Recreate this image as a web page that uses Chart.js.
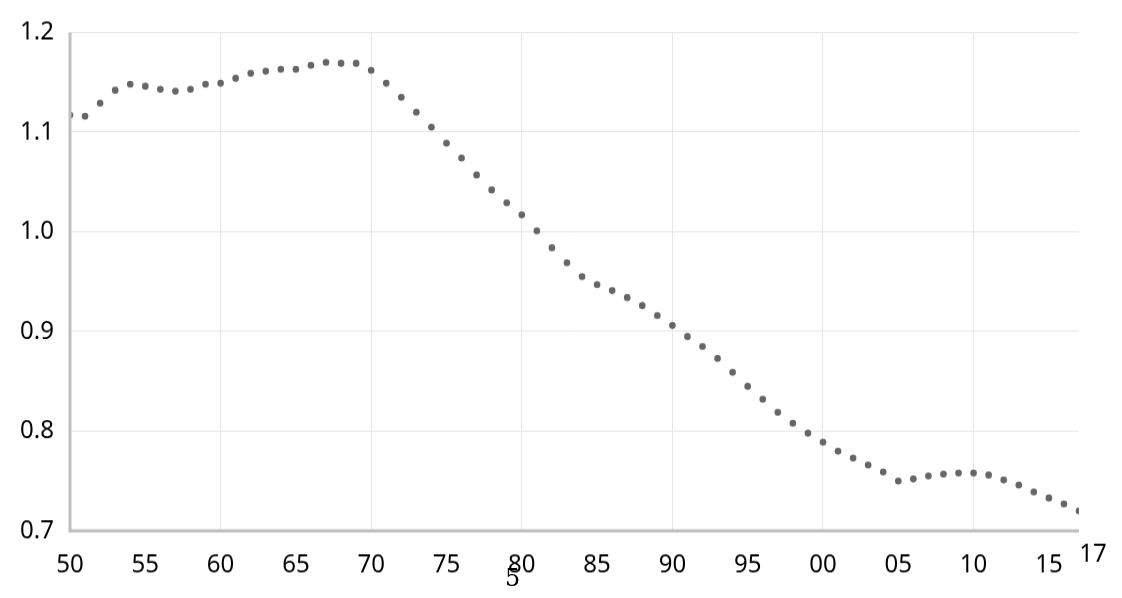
<!DOCTYPE html>
<html lang="en">
<head>
<meta charset="UTF-8">
<title>Chart</title>
<script src="https://cdn.jsdelivr.net/npm/chart.js"></script>
<style>
  html, body { margin: 0; padding: 0; background: #fff; }
  .wrap { position: relative; width: 1122px; height: 598px; }
  canvas { width: 1122px !important; height: 598px !important; }
  .note { position: absolute; left: 505px; top: 566px; font-family: "DejaVu Serif", "Liberation Serif", serif; font-size: 24px; line-height: 24px; color: #000; }
</style>
</head>
<body>
<div class="wrap">
  <canvas id="chartCanvas"></canvas>
  <div class="note">5</div>
</div>
<script>
const years = [];
for (let y = 1950; y <= 2017; y++) years.push(y);

const values = [
  1.117, 1.116, 1.129, 1.142, 1.148, 1.146, 1.143, 1.141, 1.143, 1.148,
  1.149, 1.154, 1.159, 1.161, 1.163, 1.163, 1.167, 1.170, 1.169, 1.169,
  1.162, 1.149, 1.135, 1.120, 1.105, 1.089, 1.074, 1.057, 1.042, 1.029,
  1.017, 1.001, 0.984, 0.969, 0.955, 0.947, 0.941, 0.934, 0.926, 0.916,
  0.906, 0.895, 0.885, 0.873, 0.859, 0.845, 0.832, 0.819, 0.808, 0.798,
  0.789, 0.780, 0.773, 0.766, 0.759, 0.750, 0.752, 0.755, 0.757, 0.758,
  0.758, 0.756, 0.751, 0.746, 0.739, 0.733, 0.727, 0.720
];

const xTicks = [1950, 1955, 1960, 1965, 1970, 1975, 1980, 1985, 1990, 1995, 2000, 2005, 2010, 2015, 2017];
const yTicks = [0.7, 0.8, 0.9, 1.0, 1.1, 1.2];

const points = years.map((y, i) => ({ x: y, y: values[i] }));

// thick grey axis lines and the raised "17" label
const axisPlugin = {
  id: 'axisLines',
  afterDraw(chart) {
    const { ctx, chartArea: a, scales } = chart;
    ctx.save();
    ctx.strokeStyle = '#bfbfbf';
    ctx.lineWidth = 3;
    ctx.beginPath();
    ctx.moveTo(a.left, a.top);
    ctx.lineTo(a.left, a.bottom);
    ctx.lineTo(a.right, a.bottom);
    ctx.stroke();
    ctx.fillStyle = '#000';
    ctx.font = '24px "Noto Sans"';
    ctx.textAlign = 'center';
    ctx.textBaseline = 'top';
    ctx.fillText('17', scales.x.getPixelForValue(2017) + 14, a.bottom + 10);
    ctx.restore();
  }
};

new Chart(document.getElementById('chartCanvas'), {
  type: 'scatter',
  data: {
    datasets: [{
      data: points,
      pointRadius: 3.3,
      pointBackgroundColor: '#666666',
      pointBorderWidth: 0,
      showLine: false
    }]
  },
  options: {
    responsive: false,
    animation: false,
    devicePixelRatio: 1,
    layout: { padding: { top: 30, right: 43, left: 0, bottom: 0 } },
    plugins: { legend: { display: false }, tooltip: { enabled: false } },
    scales: {
      x: {
        type: 'linear',
        min: 1950,
        max: 2017,
        afterBuildTicks: s => { s.ticks = xTicks.map(v => ({ value: v })); },
        afterFit: s => { s.height = 63; },
        grid: {
          color: c => (c.tick && c.tick.value % 10 === 0 && c.tick.value > 1950) ? '#e6e6e6' : 'rgba(0,0,0,0)',
          drawTicks: false
        },
        border: { display: false },
        ticks: {
          padding: 18,
          maxRotation: 0,
          autoSkip: false,
          color: '#000',
          font: { family: 'Noto Sans', size: 24 },
          callback: v => v === 2017 ? '' : String(v % 100).padStart(2, '0')
        }
      },
      y: {
        min: 0.7,
        max: 1.2,
        afterBuildTicks: s => { s.ticks = yTicks.map(v => ({ value: v })); },
        afterFit: s => { s.width = 70; },
        grid: { color: '#e6e6e6', drawTicks: false },
        border: { display: false },
        ticks: {
          padding: 16,
          color: '#000',
          font: { family: 'Noto Sans', size: 24 },
          callback: v => v.toFixed(1)
        }
      }
    }
  },
  plugins: [axisPlugin]
});
</script>
</body>
</html>
